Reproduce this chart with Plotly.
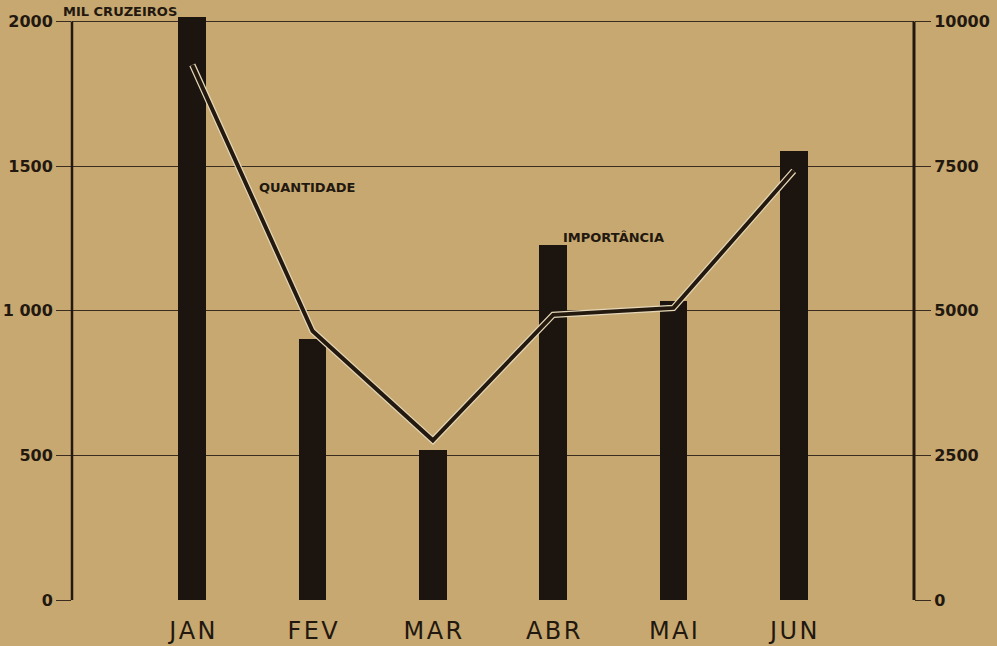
import plotly.graph_objects as go

# Data
months = ["JAN", "FEV", "MAR", "ABR", "MAI", "JUN"]
importancia = [2015, 903, 517, 1228, 1034, 1552]  # mil cruzeiros, left axis
quantidade = [9250, 4650, 2760, 4930, 5050, 7420]  # right axis

left_ticks = [0, 500, 1000, 1500, 2000]
left_labels = ["0", "500", "1 000", "1500", "2000"]
right_ticks = [0, 2500, 5000, 7500, 10000]
right_labels = ["0", "2500", "5000", "7500", "10000"]

BG = "#C7A870"
INK = "#22180F"
FONT = "DejaVu Sans"

x_pos = list(range(1, len(months) + 1))

fig = go.Figure()

fig.add_trace(
    go.Bar(
        x=x_pos,
        y=importancia,
        width=0.23,
        marker={"color": "#1C140E", "line": {"width": 0}},
        showlegend=False,
    )
)

# Outlined line: light underlay then dark core
fig.add_trace(
    go.Scatter(
        x=x_pos,
        y=quantidade,
        yaxis="y2",
        mode="lines",
        line={"color": "#E4D6B6", "width": 6.5},
        showlegend=False,
    )
)
fig.add_trace(
    go.Scatter(
        x=x_pos,
        y=quantidade,
        yaxis="y2",
        mode="lines",
        line={"color": "#24190F", "width": 4},
        showlegend=False,
    )
)

# Axis lines drawn only up to the top value
fig.add_shape(type="line", xref="paper", yref="y", x0=0, x1=0, y0=0, y1=2000,
              line={"color": INK, "width": 2.5})
fig.add_shape(type="line", xref="paper", yref="y", x0=1, x1=1, y0=0, y1=2000,
              line={"color": INK, "width": 3})

ann_font = {"size": 13, "color": INK, "family": FONT, "weight": "bold"}
fig.add_annotation(text="MIL CRUZEIROS", x=0.4, y=2036, xref="x", yref="y",
                   showarrow=False, font=ann_font)
fig.add_annotation(text="QUANTIDADE", x=1.95, y=1428, xref="x", yref="y",
                   showarrow=False, font=ann_font)
fig.add_annotation(text="IMPORTÂNCIA", x=4.5, y=1252, xref="x", yref="y",
                   showarrow=False, font=ann_font)

tick_font = {"size": 16, "color": INK, "family": FONT, "weight": "bold"}

fig.update_layout(
    width=997,
    height=646,
    margin={"l": 72, "r": 83, "t": 10, "b": 46},
    paper_bgcolor=BG,
    plot_bgcolor=BG,
    bargap=0,
    xaxis={
        "range": [0, 7],
        "automargin": False,
        "tickvals": x_pos,
        "ticktext": ["\u200a".join(m) for m in months],
        "showgrid": False,
        "zeroline": False,
        "showline": False,
        "ticks": "",
        "ticklabelstandoff": 14,
        "tickfont": {"size": 24, "color": INK, "family": FONT},
    },
    yaxis={
        "range": [0, 2040],
        "automargin": False,
        "tickvals": left_ticks,
        "ticktext": left_labels,
        "showgrid": True,
        "gridcolor": "#3A2C1E",
        "gridwidth": 1.2,
        "zeroline": False,
        "showline": False,
        "ticks": "outside",
        "ticklen": 15,
        "tickwidth": 1.2,
        "tickcolor": "#3A2C1E",
        "ticklabelstandoff": 0,
        "tickfont": tick_font,
    },
    yaxis2={
        "range": [0, 10200],
        "automargin": False,
        "overlaying": "y",
        "side": "right",
        "tickvals": right_ticks,
        "ticktext": right_labels,
        "showgrid": False,
        "zeroline": False,
        "showline": False,
        "ticks": "outside",
        "ticklen": 16,
        "tickwidth": 1.2,
        "tickcolor": "#3A2C1E",
        "ticklabelstandoff": 0,
        "tickfont": tick_font,
    },
)

fig.write_html("out.html", config={"displayModeBar": False})

# drop the default page margin so the figure sits at the window origin
with open("out.html", encoding="utf-8") as f:
    html = f.read()
html = html.replace("<head>", "<head><style>body{margin:0;overflow:hidden}</style>", 1)
with open("out.html", "w", encoding="utf-8") as f:
    f.write(html)
